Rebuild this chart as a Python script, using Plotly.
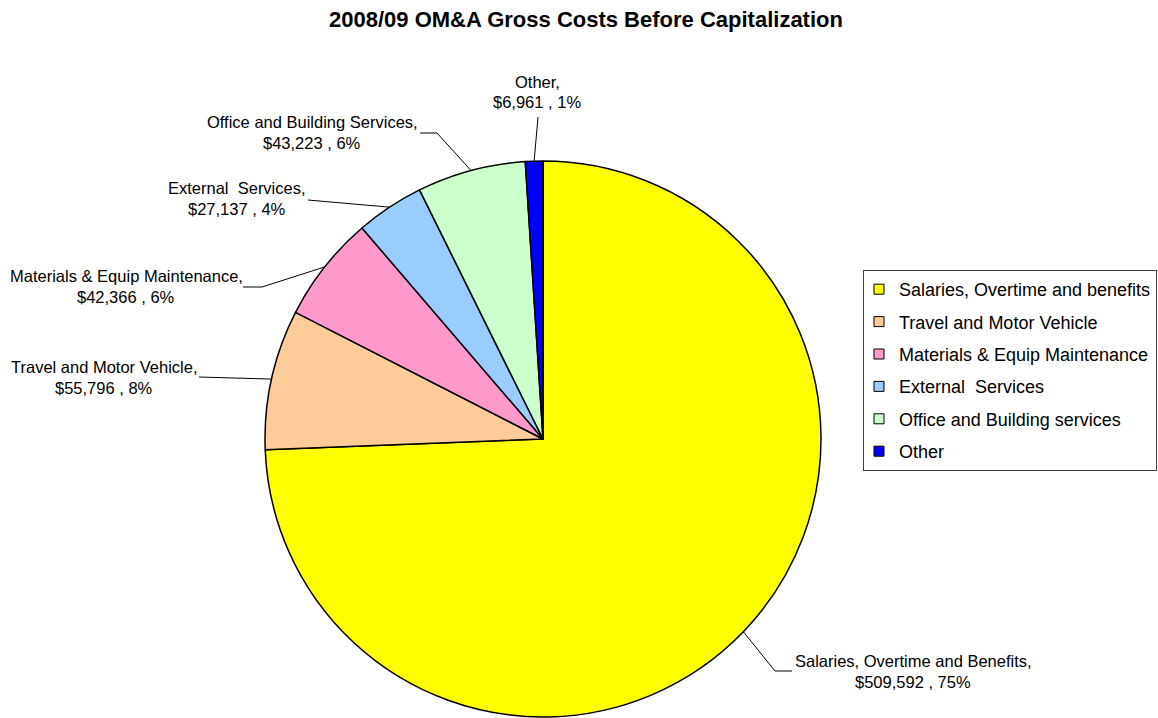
import math
import plotly.graph_objects as go

# ---- data ----
legend_names = ["Salaries, Overtime and benefits", "Travel and Motor Vehicle",
                "Materials & Equip Maintenance", "External  Services",
                "Office and Building services", "Other"]
slice_labels = ["Salaries, Overtime and Benefits", "Travel and Motor Vehicle",
                "Materials & Equip Maintenance", "External  Services",
                "Office and Building Services", "Other"]
values = [509592, 55796, 42366, 27137, 43223, 6961]
percent_labels = [75, 8, 6, 4, 6, 1]
colors = ["#FFFF00", "#FFCC99", "#FF99CC", "#99CCFF", "#CCFFCC", "#0000FF"]
title_text = "2008/09 OM&A Gross Costs Before Capitalization"

# ---- layout (pixels) ----
W, H = 1158, 718
PIE_L, PIE_R, PIE_T, PIE_B = 265, 821, 161, 717
cx = (PIE_L + PIE_R) / 2
cy = (PIE_T + PIE_B) / 2
R = (PIE_R - PIE_L) / 2

label_layout = [
    dict(x=913, y1=661, y2=682, path=[(792, 671), (775, 671)]),
    dict(x=104, y1=367, y2=388, path=[(199, 377)]),
    dict(x=126, y1=276, y2=297, path=[(243, 287), (262, 287)]),
    dict(x=237, y1=188, y2=209, path=[(308, 200)]),
    dict(x=312, y1=122, y2=143, path=[(420, 133), (437, 133)]),
    dict(x=537, y1=82, y2=102, path=[(538, 117)]),
]

FONT = "Liberation Sans, Arial, sans-serif"
LABEL_SIZE = 16.5


def px(x):
    return x / W


def py(y):
    return 1 - y / H


fig = go.Figure()
fig.add_trace(go.Pie(
    values=values, labels=legend_names, sort=False, direction="clockwise",
    rotation=0, textinfo="none", showlegend=False,
    marker=dict(colors=colors, line=dict(color="black", width=1.5)),
    domain=dict(x=[px(PIE_L), px(PIE_R)], y=[py(PIE_B), py(PIE_T)]),
))

# legend entries
for name, c in zip(legend_names, colors):
    fig.add_trace(go.Scatter(
        x=[None], y=[None], mode="markers", name=name, legendgroup=name,
        marker=dict(symbol="square", size=10, color=c,
                    line=dict(color="black", width=1)),
    ))

# slice labels + leader lines
total = sum(values)
cum = 0
shapes = []
annotations = []
for lab, v, pct, lay in zip(slice_labels, values, percent_labels, label_layout):
    mid = (cum + v / 2) / total
    cum += v
    th = 2 * math.pi * mid
    ex = cx + R * math.sin(th)
    ey = cy - R * math.cos(th)
    pts = list(lay["path"]) + [(ex, ey)]
    for (x0, y0), (x1, y1) in zip(pts[:-1], pts[1:]):
        shapes.append(dict(type="line", xref="paper", yref="paper",
                           x0=px(x0), y0=py(y0), x1=px(x1), y1=py(y1),
                           line=dict(color="black", width=1)))
    annotations.append(dict(x=px(lay["x"]), y=py(lay["y1"]), xref="paper", yref="paper",
                            text=f"{lab},", showarrow=False, xanchor="center", yanchor="middle",
                            font=dict(size=LABEL_SIZE, color="black", family=FONT)))
    annotations.append(dict(x=px(lay["x"]), y=py(lay["y2"]), xref="paper", yref="paper",
                            text=f"${v:,} , {pct}%", showarrow=False, xanchor="center", yanchor="middle",
                            font=dict(size=LABEL_SIZE, color="black", family=FONT)))

fig.update_layout(
    width=W, height=H,
    margin=dict(l=0, r=0, t=0, b=0),
    paper_bgcolor="white", plot_bgcolor="white",
    font=dict(family=FONT, color="black"),
    title=dict(text=f"<b>{title_text}</b>", x=586 / W, xanchor="center",
               y=1 - 19 / H, yanchor="middle", font=dict(size=22, family=FONT, color="black")),
    xaxis=dict(visible=False), yaxis=dict(visible=False),
    legend=dict(x=1157 / W, xanchor="right", y=py(270), yanchor="top",
                bordercolor="#404040", borderwidth=1, bgcolor="white",
                font=dict(size=18, family=FONT, color="black"),
                tracegroupgap=6, indentation=-5),
    shapes=shapes, annotations=annotations,
)

fig.write_html("out.html",
               config={"displayModeBar": False},
               post_script="document.body.style.margin='0';document.body.style.overflow='hidden';")
